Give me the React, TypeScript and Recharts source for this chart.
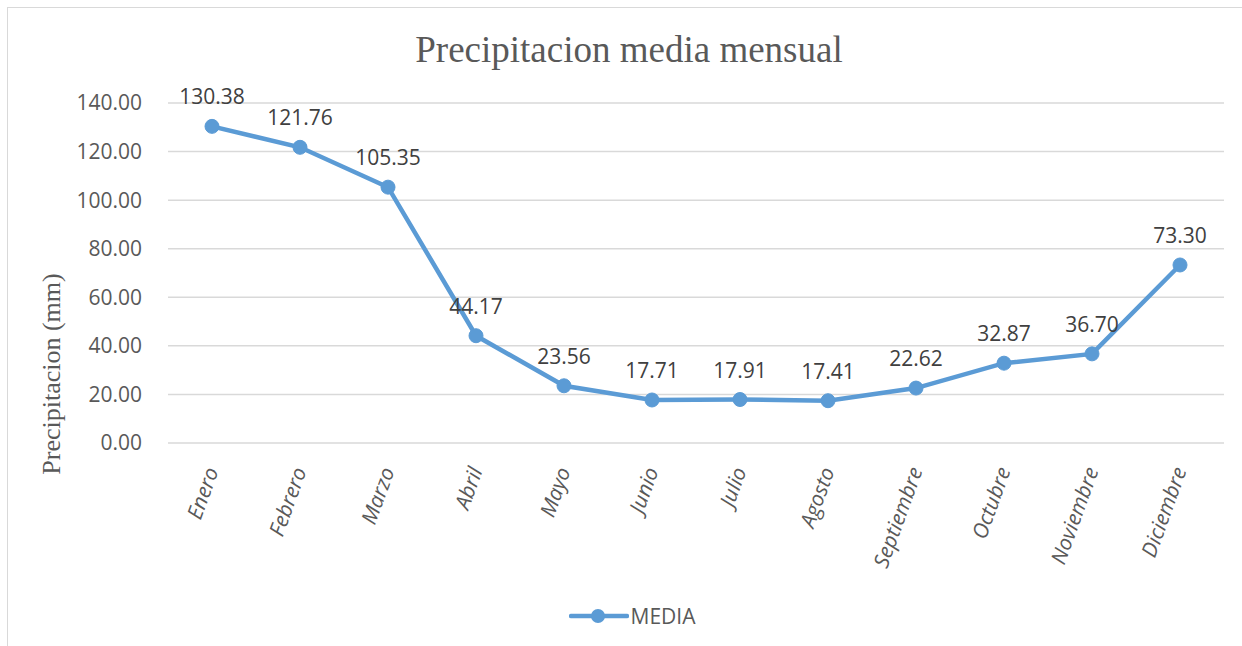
import { CartesianGrid, LabelList, Legend, Line, LineChart, XAxis, YAxis } from "recharts";

const meses = [
    "Enero", "Febrero", "Marzo", "Abril", "Mayo", "Junio",
    "Julio", "Agosto", "Septiembre", "Octubre", "Noviembre", "Diciembre",
];
const media = [130.38, 121.76, 105.35, 44.17, 23.56, 17.71, 17.91, 17.41, 22.62, 32.87, 36.7, 73.3];
const yTicks = [0, 20, 40, 60, 80, 100, 120, 140];

const data = meses.map((mes, i) => ({ mes, MEDIA: media[i] }));

const AZUL = "#5b9bd5";
const GRIS = "#595959";
const FUENTE = "'Open Sans', 'Noto Sans', sans-serif";
const SERIF = "'Liberation Serif', 'Times New Roman', serif";

const TickMes = ({ x, y, payload }: any) => (
    <g transform={`translate(${x},${y + 17})`}>
        <text
            transform="rotate(-70)"
            textAnchor="end"
            dy="0.35em"
            fill={GRIS}
            fontSize={21}
            fontStyle="italic"
            fontFamily={FUENTE}
        >
            {payload.value}
        </text>
    </g>
);

const LeyendaMedia = () => (
    <div style={{ display: "flex", justifyContent: "center", alignItems: "center", paddingLeft: 22 }}>
        <svg width={60} height={18}>
            <line x1={2} y1={9} x2={58} y2={9} stroke={AZUL} strokeWidth={4.5} strokeLinecap="round" />
            <circle cx={29} cy={9} r={7} fill={AZUL} />
        </svg>
        <span style={{ fontFamily: FUENTE, fontSize: 21, color: GRIS, marginLeft: 2 }}>MEDIA</span>
    </div>
);

const App: React.FC = () => {
    return (
        <div style={{ position: "absolute", left: 0, top: 0, width: 1242, height: 646, background: "#fff", overflow: "hidden" }}>
            <div style={{ position: "absolute", left: 7, top: 7, width: 1260, height: 660, border: "1.5px solid #d9d9d9" }} />
            <div
                style={{
                    position: "absolute", left: 0, top: 29, width: 1258, textAlign: "center",
                    fontFamily: SERIF, fontSize: 37, color: GRIS, lineHeight: "42px",
                }}
            >
                Precipitacion media mensual
            </div>
            <div style={{ position: "absolute", left: 0, top: 0 }}>
                <LineChart width={1242} height={646} data={data} margin={{ top: 103, right: 18, bottom: 0, left: 0 }}>
                    <CartesianGrid vertical={false} stroke="#d9d9d9" strokeWidth={1.5} />
                    <XAxis
                        dataKey="mes"
                        axisLine={false}
                        tickLine={false}
                        interval={0}
                        height={203}
                        padding={{ left: 44, right: 44 }}
                        tick={<TickMes />}
                    />
                    <YAxis
                        width={168}
                        domain={[0, 140]}
                        ticks={yTicks}
                        axisLine={false}
                        tickLine={false}
                        tickMargin={20}
                        tickFormatter={(v: number) => v.toFixed(2)}
                        tick={{ fill: GRIS, fontSize: 21, fontFamily: FUENTE }}
                        label={{
                            content: () => (
                                <text
                                    x={60}
                                    y={374}
                                    transform="rotate(-90 60 374)"
                                    textAnchor="middle"
                                    fill={GRIS}
                                    fontSize={26}
                                    fontFamily={SERIF}
                                >
                                    Precipitacion (mm)
                                </text>
                            ),
                        }}
                    />
                    <Legend
                        layout="horizontal"
                        verticalAlign="middle"
                        align="center"
                        wrapperStyle={{ top: 602, left: 0, width: 1242 }}
                        content={<LeyendaMedia />}
                    />
                    <Line
                        type="linear"
                        dataKey="MEDIA"
                        stroke={AZUL}
                        strokeWidth={4.5}
                        dot={{ r: 7, fill: AZUL, stroke: AZUL, strokeWidth: 1 }}
                        isAnimationActive={false}
                    >
                        <LabelList
                            dataKey="MEDIA"
                            position="top"
                            offset={22}
                            formatter={(v: any) => Number(v).toFixed(2)}
                            fill="#404040"
                            fontSize={21}
                            fontFamily={FUENTE}
                        />
                    </Line>
                </LineChart>
            </div>
        </div>
    );
};

export default App;
